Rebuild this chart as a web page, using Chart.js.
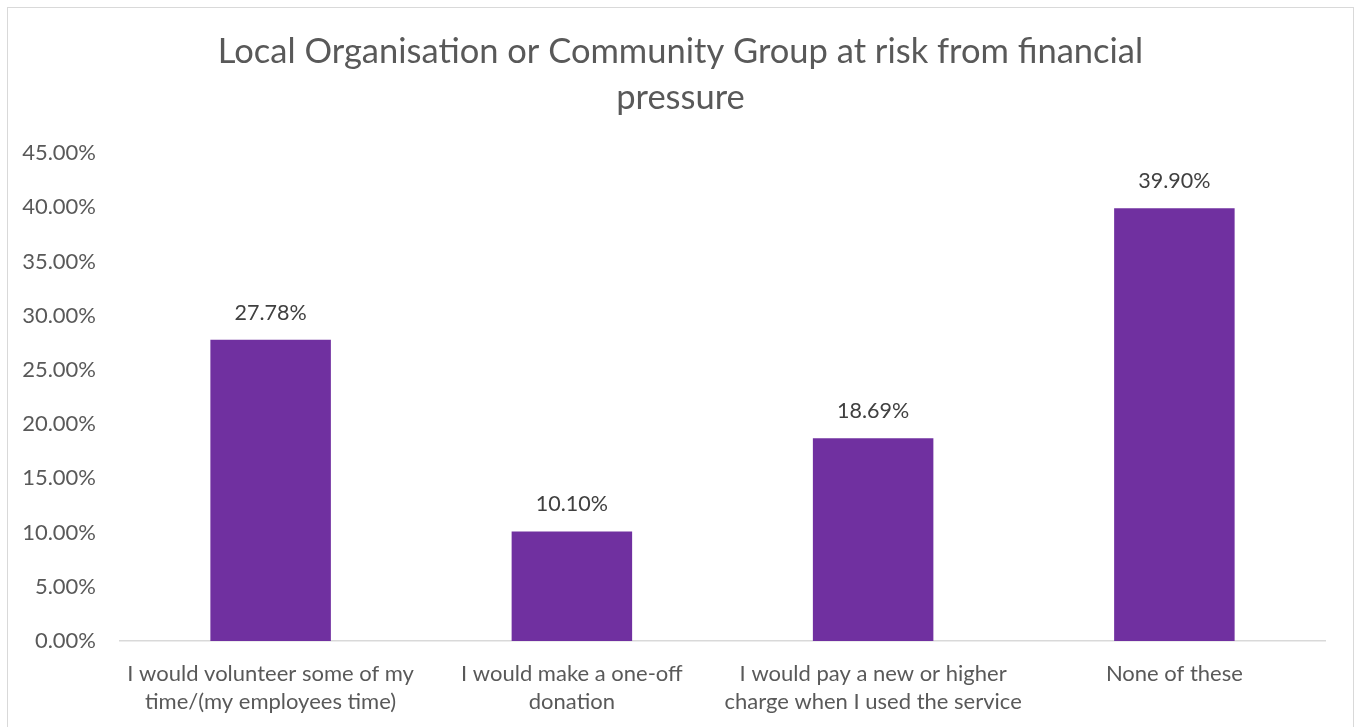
<!DOCTYPE html>
<html>
<head>
<meta charset="utf-8">
<script src="https://cdn.jsdelivr.net/npm/chart.js@4.4.0/dist/chart.umd.min.js"></script>
<style>
  html, body { margin: 0; padding: 0; background: #ffffff; overflow: hidden; }
  #frame {
    position: absolute; left: 7px; top: 7px;
    width: 1345px; height: 760px;
    border: 1px solid #d9d9d9;
  }
</style>
</head>
<body>
<div id="frame"><canvas id="riskChart" width="1345" height="760"></canvas></div>
<script>
// Responses (percent of respondents)
const categories = [
    ['I would volunteer some of my', 'time/(my employees time)'],
    ['I would make a one-off', 'donation'],
    ['I would pay a new or higher', 'charge when I used the service'],
    'None of these'
];
const percentages = [27.78, 10.10, 18.69, 39.90];
const titleLines = ['Local Organisation or Community Group at risk from financial', 'pressure'];

const fontFamily = 'Lato, Carlito, Calibri, sans-serif';

// title centred on the whole canvas, not on the padded layout box
const centredTitle = {
    id: 'centredTitle',
    afterDraw(chart) {
        const ctx = chart.ctx;
        ctx.save();
        ctx.font = '34.5px ' + fontFamily;
        ctx.fillStyle = '#595959';
        ctx.textAlign = 'center';
        ctx.textBaseline = 'middle';
        titleLines.forEach(function(line, i) {
            ctx.fillText(line, chart.width / 2, 44 + i * 46);
        });
        ctx.restore();
    }
};

// writes the value above each bar
const barValueLabels = {
    id: 'barValueLabels',
    afterDatasetsDraw(chart) {
        const ctx = chart.ctx;
        const meta = chart.getDatasetMeta(0);
        ctx.save();
        ctx.font = '21.5px ' + fontFamily;
        ctx.fillStyle = '#404040';
        ctx.textAlign = 'center';
        ctx.textBaseline = 'middle';
        meta.data.forEach(function(bar, i) {
            ctx.fillText(percentages[i].toFixed(2) + '%', bar.x, bar.y - 27);
        });
        ctx.restore();
    }
};

document.addEventListener('DOMContentLoaded', function() {
    const ctx = document.getElementById('riskChart').getContext('2d');

    new Chart(ctx, {
        type: 'bar',
        data: {
            labels: categories,
            datasets: [{
                data: percentages,
                backgroundColor: '#7030a0',
                borderWidth: 0,
                barPercentage: 0.4,
                categoryPercentage: 1
            }]
        },
        options: {
            responsive: false,
            animation: false,
            layout: { padding: { left: 0, right: 28, top: 145, bottom: 0 } },
            plugins: {
                legend: { display: false },
                tooltip: { enabled: false },
                title: { display: false }
            },
            scales: {
                x: {
                    grid: { display: false },
                    border: { display: true, color: '#d9d9d9', width: 1.5 },
                    ticks: {
                        color: '#595959',
                        maxRotation: 0,
                        autoSkip: false,
                        padding: 11,
                        font: { family: fontFamily, size: 22, lineHeight: 1.27 }
                    },
                    afterFit: function(scale) { scale.height = 127; }
                },
                y: {
                    min: 0,
                    max: 45,
                    grid: { display: false },
                    border: { display: false },
                    ticks: {
                        stepSize: 5,
                        color: '#595959',
                        padding: 16,
                        font: { family: fontFamily, size: 22 },
                        callback: function(value) { return value.toFixed(2) + '%'; }
                    },
                    afterFit: function(scale) { scale.width = 112; }
                }
            }
        },
        plugins: [centredTitle, barValueLabels]
    });
});
</script>
</body>
</html>
